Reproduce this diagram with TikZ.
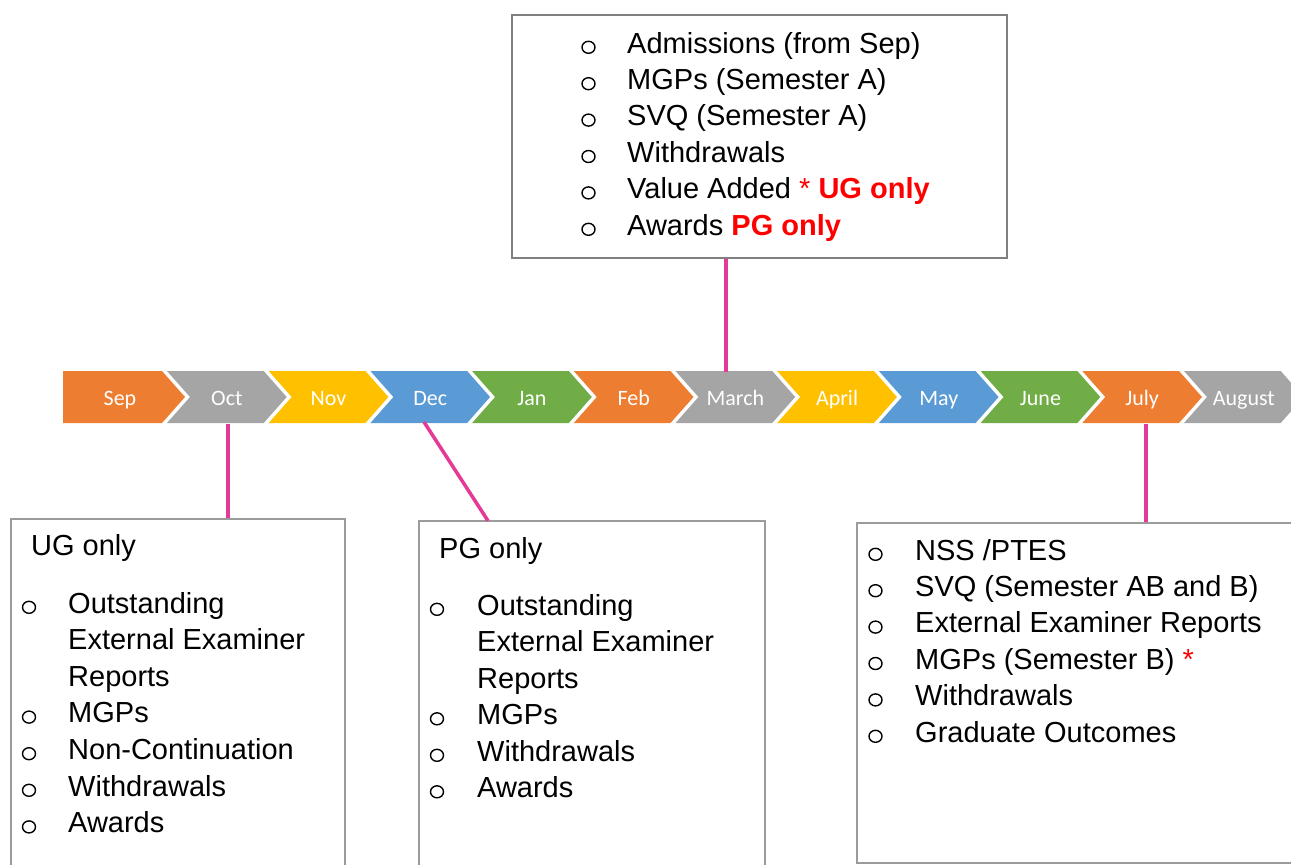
\documentclass[tikz,border=0pt]{standalone}
\usepackage{fontspec}
\usetikzlibrary{shapes.geometric}
\setmainfont{Liberation Sans}
\newfontfamily\monthfont{Carlito}

\definecolor{cOrange}{RGB}{237,125,49}
\definecolor{cGray}{RGB}{165,165,165}
\definecolor{cYellow}{RGB}{255,192,0}
\definecolor{cBlue}{RGB}{91,155,213}
\definecolor{cGreen}{RGB}{112,173,71}
\definecolor{linkpink}{RGB}{228,57,150}
\definecolor{framegray}{RGB}{155,155,155}
\definecolor{framedark}{RGB}{128,128,128}
\definecolor{hot}{RGB}{255,0,0}

\begin{document}
\begin{tikzpicture}[x=1pt,y=-1pt,
  monthlabel/.style={anchor=base, inner sep=0, text=white,
    font=\monthfont\fontsize{22}{24}\selectfont},
  listbox/.style={draw=framegray, line width=1.5pt, anchor=north west,
    inner sep=0, fill=white},
  topframe/.style={draw=framedark, line width=2pt, anchor=north west,
    inner sep=0, fill=white},
  item/.style={anchor=base west, inner sep=0,
    font=\fontsize{29}{36}\selectfont},
  bulletmark/.style={ellipse, draw=black, line width=1.4pt, inner sep=0,
    minimum width=13, minimum height=12},
  connector/.style={draw=linkpink, line width=3.5pt}]

\useasboundingbox (0,0) rectangle (1291,865);
\clip (0,0) rectangle (1291,865);

% month chevrons
\foreach \i/\name/\col in {0/Sep/cOrange, 1/Oct/cGray, 2/Nov/cYellow,
    3/Dec/cBlue, 4/Jan/cGreen, 5/Feb/cOrange, 6/March/cGray,
    7/April/cYellow, 8/May/cBlue, 9/June/cGreen, 10/July/cOrange,
    11/August/cGray} {
  \pgfmathsetmacro\R{162+101.7*\i}
  \pgfmathsetmacro\L{\i==0 ? 63 : 65.3+101.7*\i}
  \pgfmathsetmacro\N{\i==0 ? 0 : 23}
  \pgfmathsetmacro\C{\i==0 ? 120 : 125.15+101.7*\i}
  \fill[\col] (\L,371) -- (\R,371) -- (\R+23,397) -- (\R,423)
    -- (\L,423) -- (\L+\N,397) -- cycle;
  \node[monthlabel] (m\i) at (\C,405) {\name};
}

% boxes
\node[topframe, minimum width=495, minimum height=243] (topbox) at (511,14) {};
\node[listbox, minimum width=334, minimum height=400] (ugbox) at (10,518) {};
\node[listbox, minimum width=346, minimum height=400] (pgbox) at (418,520) {};
\node[listbox, minimum width=480, minimum height=340] (julbox) at (856,522) {};

% connector end points
\coordinate (octfoot) at (228,424);
\coordinate (decfoot) at (424,422);
\coordinate (marhead) at (726,372);
\coordinate (julfoot) at (1146,424);

\draw[connector] (octfoot) -- (octfoot |- ugbox.north);
\draw[connector] (decfoot) -- (488,520.8);
\draw[connector] (topbox.south -| marhead) -- (marhead);
\draw[connector] (julfoot) -- (julfoot |- julbox.north);

% top list
\foreach \txt [count=\k from 0] in {{Admissions (from Sep)},
    {MGPs (Semester A)}, {SVQ (Semester A)}, {Withdrawals},
    {Value Added {\color{hot}* \bfseries UG only}},
    {Awards {\color{hot}\bfseries PG only}}} {
  \node[bulletmark] (tb\k) at (588.5,47.3+36.4*\k) {};
  \node[item] (tt\k) at (627,53+36.4*\k) {\txt};
}

% UG list
\node[item] (ughead) at (31,555) {UG only};
\foreach \txt [count=\k from 0] in {Outstanding, {External Examiner},
    Reports, MGPs, Non-Continuation, Withdrawals, Awards} {
  \node[item] (ut\k) at (68,613+36.6*\k) {\txt};
}
\foreach \k in {0,3,4,5,6} {
  \node[bulletmark] (ub\k) at (29,607.3+36.6*\k) {};
}

% PG list
\node[item] (pghead) at (439,558) {PG only};
\foreach \txt [count=\k from 0] in {Outstanding, {External Examiner},
    Reports, MGPs, Withdrawals, Awards} {
  \node[item] (pt\k) at (477,615+36.5*\k) {\txt};
}
\foreach \k in {0,3,4,5} {
  \node[bulletmark] (pb\k) at (437,609.3+36.5*\k) {};
}

% July list
\foreach \txt [count=\k from 0] in {{NSS /PTES},
    {SVQ (Semester AB and B)}, {External Examiner Reports},
    {MGPs (Semester B) {\color{hot}*}}, {Withdrawals},
    {Graduate Outcomes}} {
  \node[bulletmark] (jb\k) at (875.5,554.3+36.4*\k) {};
  \node[item] (jt\k) at (915,560+36.4*\k) {\txt};
}
\end{tikzpicture}
\end{document}
